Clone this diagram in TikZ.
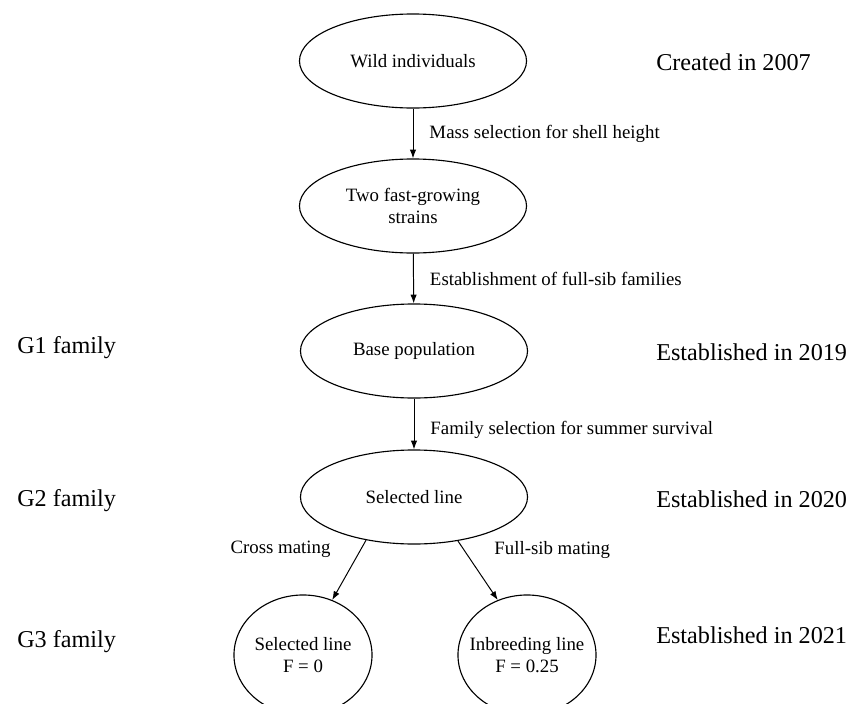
\documentclass[tikz,border=0pt]{standalone}
\usepackage{fontspec}
\setmainfont{Liberation Serif}
\usetikzlibrary{positioning, arrows.meta, shapes.geometric}

\begin{document}
\begin{tikzpicture}[
    x=0.025cm, y=-0.025cm,
    stage/.style={ellipse, draw=black, line width=0.8pt, minimum width=5.675cm, minimum height=2.35cm, inner sep=0pt, align=center, font=\fontsize{13.4}{16}\selectfont},
    offspring/.style={stage, minimum width=3.45cm, minimum height=3cm, inner xsep=-8pt},
    note/.style={inner sep=0pt, font=\fontsize{13.4}{16}\selectfont},
    period/.style={anchor=west, inner sep=0pt, font=\fontsize{17.2}{20}\selectfont},
    flow/.style={draw, line width=0.7pt, -{Latex[length=2.2mm, width=1.6mm]}}
]
    \clip (0,0) rectangle (850,704);

    % Stages ===========================
    \node[stage] (wild) at (413, 61) {Wild individuals};
    \node[stage] (strains) at (413, 206) {Two fast-growing\\strains};
    \node[stage] (base) at (414, 351) {Base population};
    \node[stage] (selected) at (414, 497) {Selected line};
    \node[offspring] (selF0) at (303, 655) {Selected line\\F = 0};
    \node[offspring] (inbred) at (527, 655) {Inbreeding line\\F = 0.25};

    % Stage -> Stage Edges ========
    \draw[flow] (wild) -- node[note, right, xshift=0.4cm] {Mass selection for shell height} (strains);
    \draw[flow] (strains) -- node[note, right, xshift=0.4cm] {Establishment of full-sib families} (base);
    \draw[flow] (base) -- node[note, right, xshift=0.4cm, pos=0.62] {Family selection for summer survival} (selected);

    \draw[flow] (selected.222) -- node[note, left, xshift=-0.75cm, pos=0.15] {Cross mating} (selF0.62);
    \draw[flow] (selected.315) -- node[note, right, xshift=0.75cm, pos=0.15] {Full-sib mating} (inbred.118);

    % Generations ===========================
    \node[period] (g1) at (17, 348) {G1 family};
    \node[period] (g2) at (17, 501) {G2 family};
    \node[period] (g3) at (17, 642) {G3 family};

    % Dates ===========================
    \node[period] (d2007) at (656, 62) {Created in 2007};
    \node[period] (d2019) at (656, 352) {Established in 2019};
    \node[period] (d2020) at (656, 499) {Established in 2020};
    \node[period] (d2021) at (656, 635) {Established in 2021};

\end{tikzpicture}
\end{document}
